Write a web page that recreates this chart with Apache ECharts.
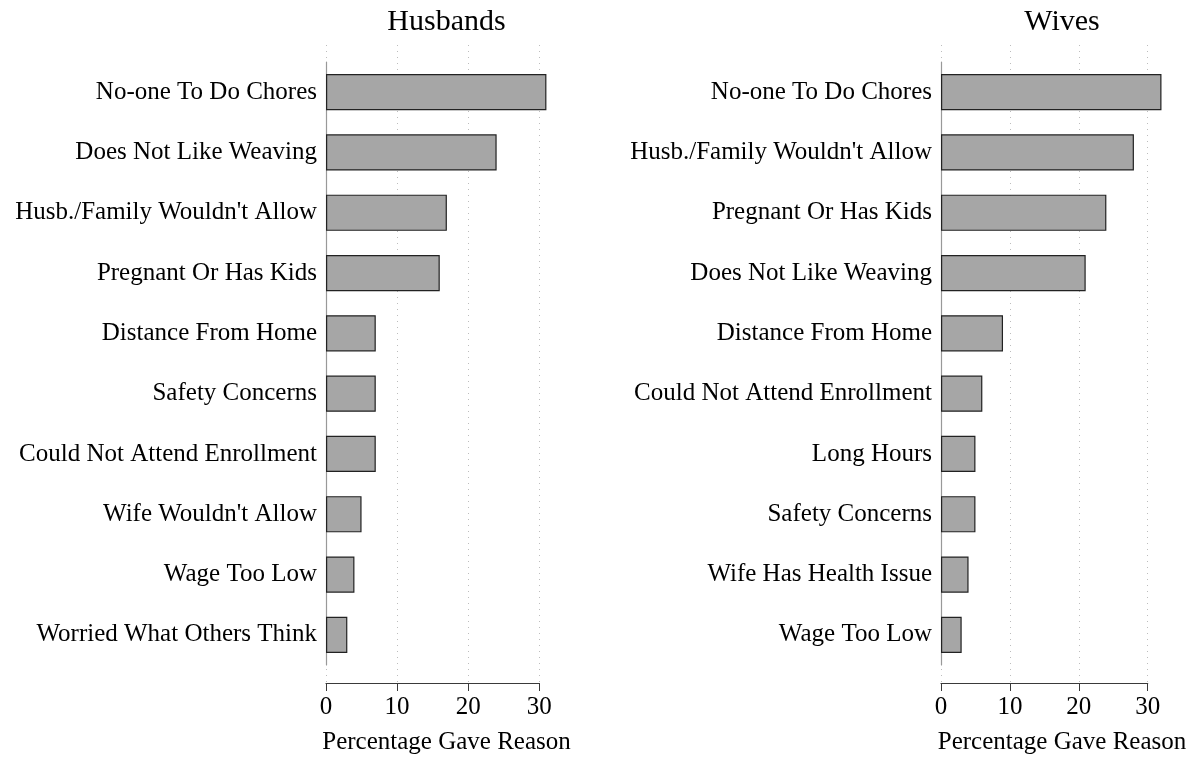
<!DOCTYPE html>
<html>
<head>
<meta charset="utf-8">
<script src="https://cdn.jsdelivr.net/npm/echarts@6/dist/echarts.min.js"></script>
<style>
  html, body { margin: 0; padding: 0; background: #fff; }
  #chart { width: 1196px; height: 758px; }
</style>
</head>
<body>
<div id="chart"></div>
<script>
// data
const husbandReasons = ['No-one To Do Chores', 'Does Not Like Weaving', "Husb./Family Wouldn't Allow", 'Pregnant Or Has Kids', 'Distance From Home', 'Safety Concerns', 'Could Not Attend Enrollment', "Wife Wouldn't Allow", 'Wage Too Low', 'Worried What Others Think']
const husbandValues = [31, 24, 17, 16, 7, 7, 7, 5, 4, 3]
const wifeReasons = ['No-one To Do Chores', "Husb./Family Wouldn't Allow", 'Pregnant Or Has Kids', 'Does Not Like Weaving', 'Distance From Home', 'Could Not Attend Enrollment', 'Long Hours', 'Safety Concerns', 'Wife Has Health Issue', 'Wage Too Low']
const wifeValues = [32, 28, 24, 21, 9, 6, 5, 5, 4, 3]
const panelTitles = ['Husbands', 'Wives']
const axisTitle = 'Percentage Gave Reason'
const xMin = 0
const xMax = 30
const xStep = 10

const FONT = 'Liberation Serif'
const panels = [
  { left: 326, width: 213.3, center: 446.5 },
  { left: 941, width: 206.7, center: 1062 }
]

const chart = echarts.init(document.getElementById('chart'))

const grid = []
const xAxis = []
const yAxis = []
const series = []
const title = []

panels.forEach((p, i) => {
  const reasons = i === 0 ? husbandReasons : wifeReasons
  const values = i === 0 ? husbandValues : wifeValues
  const bg = i * 2
  const fg = i * 2 + 1

  // background grid: bottom axis + dotted gridlines
  grid.push({ left: p.left, width: p.width, top: 45, height: 638 })
  // bar grid
  grid.push({ left: p.left, width: p.width, top: 62, height: 603 })

  xAxis.push({
    gridIndex: bg, type: 'value', min: xMin, max: xMax, interval: xStep,
    axisLine: { show: true, lineStyle: { color: '#3a3a3a', width: 1.2 } },
    axisTick: { show: true, length: 8, lineStyle: { color: '#3a3a3a' } },
    axisLabel: { color: '#000', fontFamily: FONT, fontSize: 25, margin: 12 },
    splitLine: { show: true, lineStyle: { color: '#bdbdbd', type: [1, 5], width: 1 } }
  })
  yAxis.push({
    gridIndex: bg, type: 'value', show: false,
    splitLine: { show: false }
  })

  xAxis.push({
    gridIndex: fg, type: 'value', min: xMin, max: xMax, show: false,
    splitLine: { show: false }
  })
  yAxis.push({
    gridIndex: fg, type: 'category', data: reasons, inverse: true,
    axisLine: { show: true, lineStyle: { color: '#999', width: 1.2 } },
    axisTick: { show: false },
    axisLabel: { color: '#000', fontFamily: FONT, fontSize: 25, margin: 9 }
  })

  series.push({
    type: 'bar', xAxisIndex: fg, yAxisIndex: fg, data: values,
    barWidth: '60%', clip: false,
    itemStyle: { color: '#a6a6a6', borderColor: '#222', borderWidth: 1.2 }
  })

  title.push({
    text: panelTitles[i], left: p.center, top: 7, textAlign: 'center', padding: 0,
    textStyle: { color: '#000', fontFamily: FONT, fontSize: 30, fontWeight: 'normal' }
  })
  title.push({
    text: axisTitle, left: p.center, top: 730, textAlign: 'center', padding: 0,
    textStyle: { color: '#000', fontFamily: FONT, fontSize: 25, fontWeight: 'normal' }
  })
})

chart.setOption({
  animation: false,
  backgroundColor: '#fff',
  title,
  grid,
  xAxis,
  yAxis,
  series
})
</script>
</body>
</html>
